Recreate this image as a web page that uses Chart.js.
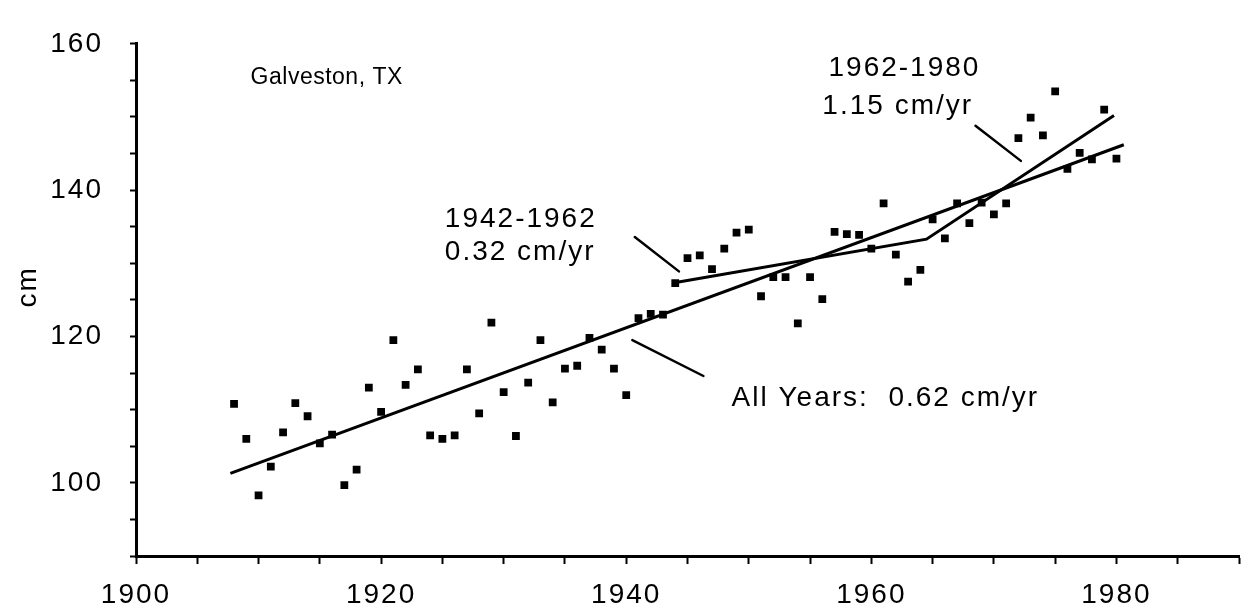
<!DOCTYPE html>
<html>
<head>
<meta charset="utf-8">
<script src="https://cdn.jsdelivr.net/npm/chart.js@4.4.1/dist/chart.umd.min.js"></script>
<style>
  html, body { margin: 0; padding: 0; background: #fff; }
  #wrap { width: 1253px; height: 614px; }
</style>
</head>
<body>
<div id="wrap"><canvas id="c" width="1253" height="614"></canvas></div>
<script>
// ---- Data ----
const years = [1908,1909,1910,1911,1912,1913,1914,1915,1916,1917,1918,1919,1920,1921,1922,1923,1924,1925,1926,1927,
  1928,1929,1930,1931,1932,1933,1934,1935,1936,1937,1938,1939,1940,1941,1942,1943,1944,1945,1946,1947,
  1948,1949,1950,1951,1952,1953,1954,1955,1956,1957,1958,1959,1960,1961,1962,1963,1964,1965,1966,1967,
  1968,1969,1970,1971,1972,1973,1974,1975,1976,1977,1978,1979,1980];
const seaLevelCm = [110.8,106.0,98.3,102.2,106.9,110.9,109.1,105.4,106.6,99.7,101.8,113.0,109.7,119.5,113.4,115.5,106.5,106.0,106.5,115.5,
  109.5,121.9,112.4,106.4,113.7,119.5,111.0,115.6,116.0,119.8,118.2,115.6,112.0,122.5,123.1,123.0,127.3,130.7,131.1,129.2,
  132.0,134.2,134.6,125.5,128.1,128.1,121.8,128.1,125.1,134.3,134.0,133.9,132.0,138.2,131.2,127.5,129.1,136.0,133.4,138.2,
  135.5,138.3,136.7,138.2,147.1,149.9,147.5,153.5,142.9,145.1,144.2,151.0,144.3];

// Fitted trend lines (endpoints)
const fitAllYearsX = [1907.7, 1980.6];
const fitAllYearsY = [101.3, 146.2];
const fitPeriodsX = [1943.8, 1964.5, 1979.8];
const fitPeriodsY = [127.3, 133.3, 150.2];

// Axis ticks
const xLabeledTicks = [1900, 1920, 1940, 1960, 1980];
const yLabeledTicks = [100, 120, 140, 160];

// Annotation texts
const titleText = 'Galveston, TX';
const label4262 = ['1942-1962', '0.32 cm/yr'];
const label6280 = ['1962-1980', '1.15 cm/yr'];
const labelAll = 'All Years:  0.62 cm/yr';
const yTitle = 'cm';

// ---- Build ----
const FONT = '"Liberation Sans", Arial, Helvetica, sans-serif';
const pts = years.map((yr, i) => ({x: yr, y: seaLevelCm[i]}));
const toXY = (xs, ys) => xs.map((v, i) => ({x: v, y: ys[i]}));

// annotation placement (data coordinates)
const texts = [
  {t: titleText, x: 1909.35, y: 155.4, align: 'left', size: 23, sp: '0.5px'},
  {t: label4262[0], x: 1925.2, y: 136.0, align: 'left', size: 28, sp: '2px'},
  {t: label4262[1], x: 1925.2, y: 131.5, align: 'left', size: 28, sp: '2px'},
  {t: label6280[0], x: 1968.9, y: 156.6, align: 'right', size: 28, sp: '2px'},
  {t: label6280[1], x: 1968.3, y: 151.4, align: 'right', size: 28, sp: '2px'},
  {t: labelAll, x: 1948.6, y: 111.5, align: 'left', size: 28, sp: '2px'}
];
const leaders = [
  [[1940.7, 133.6], [1944.3, 128.9]],
  [[1940.5, 119.5], [1946.3, 114.6]],
  [[1968.5, 148.8], [1972.2, 144.0]]
];

const annotate = {
  id: 'annotate',
  beforeDraw(chart) {
    chart.ctx.letterSpacing = '2px';
  },
  afterDatasetsDraw(chart) {
    const {ctx, scales: {x, y}, chartArea} = chart;
    ctx.save();
    ctx.fillStyle = '#000';
    ctx.strokeStyle = '#000';
    ctx.textBaseline = 'middle';
    texts.forEach(a => {
      ctx.font = a.size + 'px ' + FONT;
      ctx.letterSpacing = a.sp;
      ctx.textAlign = a.align;
      ctx.fillText(a.t, x.getPixelForValue(a.x), y.getPixelForValue(a.y));
    });
    ctx.lineWidth = 2.5;
    ctx.lineCap = 'round';
    leaders.forEach(l => {
      ctx.beginPath();
      ctx.moveTo(x.getPixelForValue(l[0][0]), y.getPixelForValue(l[0][1]));
      ctx.lineTo(x.getPixelForValue(l[1][0]), y.getPixelForValue(l[1][1]));
      ctx.stroke();
    });
    // y axis title
    ctx.font = '28px ' + FONT;
    ctx.letterSpacing = '2px';
    ctx.translate(chartArea.left - 108, chartArea.top + 243);
    ctx.rotate(-Math.PI / 2);
    ctx.textAlign = 'center';
    ctx.fillText(yTitle, 0, 0);
    ctx.restore();
  }
};

new Chart(document.getElementById('c'), {
  type: 'scatter',
  data: {
    datasets: [
      {
        label: 'Annual mean',
        data: pts,
        showLine: false,
        pointStyle: 'rect',
        pointRadius: 5.5,
        backgroundColor: '#000',
        borderColor: '#000',
        borderWidth: 0
      },
      {
        label: 'All years',
        data: toXY(fitAllYearsX, fitAllYearsY),
        showLine: true,
        pointRadius: 0,
        borderColor: '#000',
        borderWidth: 3
      },
      {
        label: 'Periods',
        data: toXY(fitPeriodsX, fitPeriodsY),
        showLine: true,
        pointRadius: 0,
        borderColor: '#000',
        borderWidth: 3
      }
    ]
  },
  options: {
    responsive: false,
    animation: false,
    layout: {padding: {top: 25, right: 1, left: 0, bottom: 0}},
    plugins: {legend: {display: false}, tooltip: {enabled: false}},
    scales: {
      x: {
        type: 'linear',
        min: 1900, max: 1990,
        afterFit: s => { s.height = 58; },
        border: {display: true, color: '#000', width: 3},
        grid: {display: true, drawOnChartArea: false, drawTicks: true, tickLength: 8, tickWidth: 2, tickColor: '#000'},
        ticks: {
          stepSize: 5,
          autoSkip: false,
          maxRotation: 0,
          padding: 14,
          color: '#000',
          font: {family: FONT, size: 28},
          callback: v => xLabeledTicks.includes(v) ? String(v) : ''
        }
      },
      y: {
        min: 90, max: 160,
        afterFit: s => { s.width = 136; },
        border: {display: true, color: '#000', width: 3},
        grid: {display: true, drawOnChartArea: false, drawTicks: true, tickLength: 6, tickWidth: 2, tickColor: '#000'},
        ticks: {
          stepSize: 5,
          autoSkip: false,
          padding: 27,
          color: '#000',
          font: {family: FONT, size: 28},
          callback: v => yLabeledTicks.includes(v) ? String(v) : ''
        }
      }
    }
  },
  plugins: [annotate]
});
</script>
</body>
</html>
